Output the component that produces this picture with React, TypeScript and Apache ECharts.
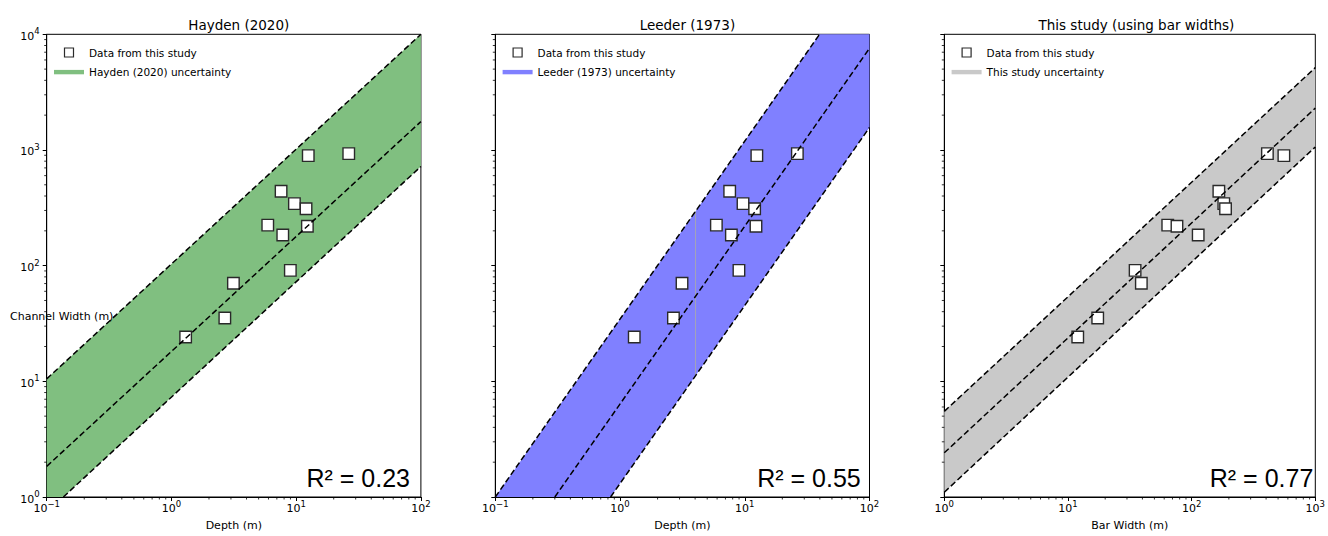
import React, { useEffect, useRef } from 'react';
import * as echarts from 'echarts';

// ---- data ----
const depth = [12.5, 26.4, 7.57, 9.68, 12.0, 5.92, 12.3, 7.81, 8.98, 3.14, 2.68, 1.3];
const channelWidth = [893, 929, 440, 344, 310, 224, 219, 184, 91, 70.4, 35.3, 24.2];
const barWidth = [557, 410, 166, 182, 188, 64.1, 76.1, 113, 34.9, 39.2, 17.4, 12.0];

const haydenUpper = [[0.1, 10.5], [100, 10000]];
const haydenMid = [[0.1, 1.84], [100, 1760]];
const haydenLower = [[0.136, 1], [100, 720]];
const leederUpper = [[0.1, 1], [39.8, 10000]];
const leederMid = [[0.3, 1], [100, 7570]];
const leederLower = [[0.84, 1], [100, 1566]];
const leederSeam = [[4.03, 296], [4.03, 11.1]];
const studyUpper = [[1, 5.5], [1000, 5150]];
const studyMid = [[1, 2.41], [1000, 2300]];
const studyLower = [[1, 1.1], [1000, 1062]];

const panelTitles = ['Hayden (2020)', 'Leeder (1973)', 'This study (using bar widths)'];
const bandNames = ['Hayden (2020) uncertainty', 'Leeder (1973) uncertainty', 'This study uncertainty'];
const scatterName = 'Data from this study';
const rSquared = ['0.23', '0.55', '0.77'];
const xAxisNames = ['Depth (m)', 'Depth (m)', 'Bar Width (m)'];
const yAxisName = 'Channel Width (m)';
// tick labels: 10^exponent
const depthTickExps = ['−1', '0', '1', '2'];
const barTickExps = ['0', '1', '2', '3'];
const widthTickExps = ['0', '1', '2', '3', '4'];
const minorMultipliers = [2, 3, 4, 5, 6, 7, 8, 9];

// ---- layout / style ----
const FONT = 'DejaVu Sans';
const GRID_LEFTS = [46.7, 495.3, 944.3];
const GRID_W = 374.2;
const GRID_TOP = 34.3;
const GRID_H = 464;
const BAND_COLORS = ['#80bf80', '#8080ff', '#c9c9c9'];
const R2_RIGHTS = [410, 860.7, 1313.3];

const xRanges = [[0.1, 100], [0.1, 100], [1, 1000]];
const yRange = [1, 10000];

const bands = [
  [...haydenUpper, ...[...haydenLower].reverse(), [xRanges[0][0], yRange[0]]],
  [...leederUpper, [xRanges[1][1], yRange[1]], ...[...leederLower].reverse()],
  [...studyUpper, ...[...studyLower].reverse()],
];
const lineSets = [
  [haydenUpper, haydenMid, haydenLower],
  [leederUpper, leederMid, leederLower],
  [studyUpper, studyMid, studyLower],
];
const xValues = [depth, depth, barWidth];
const xTickExpSets = [depthTickExps, depthTickExps, barTickExps];

const tickRich = {
  b: { fontFamily: FONT, fontSize: 11, color: '#000', padding: [4, 0, 0, 0] },
  s: { fontFamily: FONT, fontSize: 8.5, color: '#000', verticalAlign: 'top', lineHeight: 9 },
};

function minorValues(range: number[]) {
  const out: number[] = [];
  const e0 = Math.round(Math.log10(range[0]));
  const e1 = Math.round(Math.log10(range[1]));
  for (let e = e0; e < e1; e++) {
    for (const m of minorMultipliers) out.push(m * Math.pow(10, e));
  }
  return out;
}

function buildOption() {
  const grid: any[] = [];
  const xAxis: any[] = [];
  const yAxis: any[] = [];
  const series: any[] = [];
  const legend: any[] = [];
  const title: any[] = [];
  const graphic: any[] = [];

  for (let i = 0; i < 3; i++) {
    const left = GRID_LEFTS[i];
    grid.push({
      left, top: GRID_TOP, width: GRID_W, height: GRID_H,
      show: true, borderColor: '#000', borderWidth: 1, backgroundColor: 'transparent',
    });
    const xr = xRanges[i];
    const xExps = xTickExpSets[i];
    const xExp0 = Math.round(Math.log10(xr[0]));
    xAxis.push({
      type: 'log', logBase: 10, gridIndex: i, min: xr[0], max: xr[1],
      name: xAxisNames[i], nameLocation: 'middle', nameGap: 23,
      nameTextStyle: { fontFamily: FONT, fontSize: 11, color: '#000' },
      axisLine: { show: true, lineStyle: { color: '#000', width: 1 } },
      axisTick: { show: true, length: 4, lineStyle: { color: '#000', width: 1 } },
      axisLabel: {
        show: true, margin: 2, fontFamily: FONT, fontSize: 11, color: '#000', rich: tickRich,
        formatter: (v: number) => {
          const e = xExps[Math.round(Math.log10(v)) - xExp0];
          return e === undefined ? '' : '{b|10}{s|' + e + '}';
        },
      },
      splitLine: { show: false },
      minorTick: { show: false },
    });
    yAxis.push({
      type: 'log', logBase: 10, gridIndex: i, min: yRange[0], max: yRange[1],
      axisLine: { show: true, lineStyle: { color: '#000', width: 1 } },
      axisTick: { show: true, length: 4, lineStyle: { color: '#000', width: 1 } },
      axisLabel: {
        show: i === 0, margin: 7, fontFamily: FONT, fontSize: 11, color: '#000', rich: tickRich,
        formatter: (v: number) => {
          const e = widthTickExps[Math.round(Math.log10(v))];
          return e === undefined ? '' : '{b|10}{s|' + e + '}';
        },
      },
      splitLine: { show: false },
    });

    const band = bands[i];
    const bandColor = BAND_COLORS[i];
    series.push({
      type: 'custom', name: bandNames[i], xAxisIndex: i, yAxisIndex: i,
      coordinateSystem: 'cartesian2d', z: 1, silent: true,
      itemStyle: { color: bandColor },
      data: band,
      renderItem: (params: any, api: any) => {
        if (params.dataIndex !== 0) return null;
        const pts = band.map((p) => api.coord(p));
        return { type: 'polygon', shape: { points: pts }, style: { fill: bandColor }, silent: true };
      },
    });
    if (i === 1) {
      series.push({
        type: 'line', name: 'seam', xAxisIndex: i, yAxisIndex: i, z: 1, silent: true,
        data: leederSeam, symbol: 'none',
        lineStyle: { color: '#a4a4b8', width: 1 },
      });
    }
    series.push({
      type: 'scatter', name: scatterName, xAxisIndex: i, yAxisIndex: i, z: 2, silent: true,
      symbol: 'rect', symbolSize: 11.5,
      itemStyle: { color: '#fff', borderColor: '#2a2a2a', borderWidth: 1.4, opacity: 1 },
      data: xValues[i].map((x, k) => [x, channelWidth[k]]),
    });
    lineSets[i].forEach((ln, k) => {
      series.push({
        type: 'line', name: 'fit' + i + '_' + k, xAxisIndex: i, yAxisIndex: i, z: 3, silent: true,
        data: ln, symbol: 'none',
        lineStyle: { color: '#000', width: 1.5, type: [6, 3] },
      });
    });
    // minor ticks (matplotlib style: 2..9 within each decade)
    series.push({
      type: 'custom', name: 'minorX' + i, xAxisIndex: i, yAxisIndex: i, silent: true, z: 4,
      coordinateSystem: 'cartesian2d',
      data: minorValues(xr).map((v) => [v, yRange[0]]),
      renderItem: (params: any, api: any) => {
        const p = api.coord([api.value(0), api.value(1)]);
        return { type: 'line', shape: { x1: p[0], y1: p[1], x2: p[0], y2: p[1] + 2.5 }, style: { stroke: '#000', lineWidth: 0.8 } };
      },
    });
    series.push({
      type: 'custom', name: 'minorY' + i, xAxisIndex: i, yAxisIndex: i, silent: true, z: 4,
      coordinateSystem: 'cartesian2d',
      data: minorValues(yRange).map((v) => [xr[0], v]),
      renderItem: (params: any, api: any) => {
        const p = api.coord([api.value(0), api.value(1)]);
        return { type: 'line', shape: { x1: p[0] - 2.5, y1: p[1], x2: p[0], y2: p[1] }, style: { stroke: '#000', lineWidth: 0.8 } };
      },
    });

    legend.push({
      orient: 'vertical', left: left + 7.3, top: 47, padding: 0,
      itemWidth: 30, itemHeight: 9, itemGap: 8.6, selectedMode: false,
      symbolKeepAspect: true,
      textStyle: { fontFamily: FONT, fontSize: 10.5, color: '#000' },
      data: [
        { name: scatterName, icon: 'path://M0,0L10,0L10,10L0,10Z', itemStyle: { color: '#fff', borderColor: '#2a2a2a', borderWidth: 1.2 } },
        { name: bandNames[i], icon: 'path://M0,0L30,0L30,4.4L0,4.4Z', itemStyle: { color: bandColor, borderWidth: 0 } },
      ],
    });

    title.push({
      text: panelTitles[i], left: left + GRID_W / 2, top: 13, textAlign: 'center',
      textStyle: { fontFamily: FONT, fontSize: 13.5, fontWeight: 'normal', color: '#000' },
    });

    graphic.push({
      type: 'text', x: R2_RIGHTS[i], y: 477.5, silent: true,
      style: {
        text: 'R² = ' + rSquared[i], fill: '#000', fontFamily: 'Liberation Sans', fontSize: 25,
        textAlign: 'right', textVerticalAlign: 'middle',
      },
    });
  }

  graphic.push({
    type: 'text', x: 10, y: 316, silent: true, z: 100,
    style: { text: yAxisName, fill: '#000', fontFamily: FONT, fontSize: 11, textAlign: 'left', textVerticalAlign: 'middle' },
  });

  return {
    animation: false,
    backgroundColor: '#fff',
    grid, xAxis, yAxis, series, legend, title, graphic,
  };
}

export default function App() {
  const ref = useRef<HTMLDivElement>(null);
  useEffect(() => {
    if (!ref.current) return;
    const chart = echarts.init(ref.current, undefined, { renderer: 'svg' });
    chart.setOption(buildOption() as any);
    return () => chart.dispose();
  }, []);
  return <div ref={ref} style={{ position: 'fixed', left: 0, top: 0, width: 1328, height: 536 }} />;
}
